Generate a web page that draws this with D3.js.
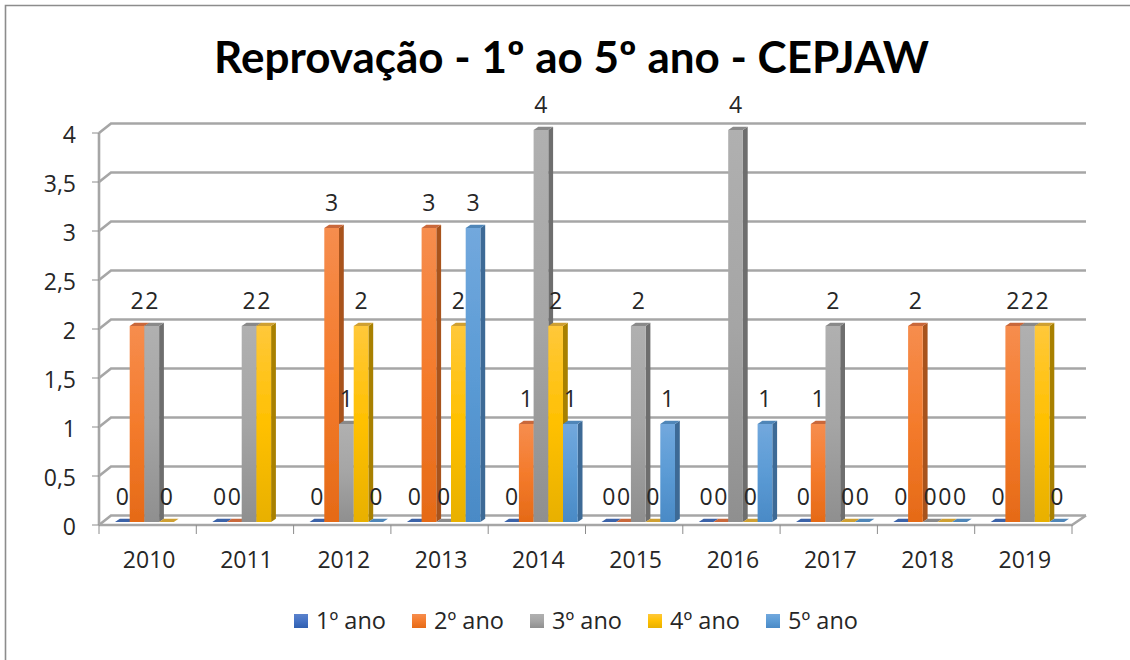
<!DOCTYPE html>
<html><head><meta charset="utf-8">
<script src="https://cdnjs.cloudflare.com/ajax/libs/d3/7.8.5/d3.min.js"></script>
<style>html,body{margin:0;padding:0;background:#fff}svg{display:block}text{font-family:"Open Sans",sans-serif;fill:#262626}</style>
</head><body><svg id="c" width="1130" height="660"></svg>
<script>
const titleText = "Reprovação - 1º ao 5º ano - CEPJAW";
const categories = ["2010","2011","2012","2013","2014","2015","2016","2017","2018","2019"];
const seriesNames = ["1º ano","2º ano","3º ano","4º ano","5º ano"];
const ano1 = [0,0,0,0,0,0,0,0,0,0];
const ano2 = [2,0,3,3,1,0,0,1,2,2];
const ano3 = [2,2,1,0,4,2,4,2,0,2];
const ano4 = [0,2,2,2,2,0,0,0,0,2];
const ano5 = [null,null,0,3,1,1,1,0,0,0];
const seriesValues = [ano1,ano2,ano3,ano4,ano5];
const colorTop = ["#5b82cc","#f68d4e","#b0b0b0","#ffc83a","#72a8dd"];
const colorMid = ["#4472c4","#f47b2c","#a5a5a5","#ffc000","#5b9bd5"];
const colorBot = ["#2f5fb0","#e56a17","#8f8f8f","#e8b000","#4a8ac6"];
const colorSide = ["#2b4a85","#a8521f","#6e6e6e","#a88000","#3d6a96"];
const colorCap = ["#3a62a8","#c9683a","#8a8a8a","#cfa032","#4f86b8"];
const yTicks = [0,0.5,1,1.5,2,2.5,3,3.5,4];

const svg = d3.select("#c");
const defs = svg.append("defs");
seriesNames.forEach((s,i)=>{
  const g = defs.append("linearGradient").attr("id","g"+i).attr("x1",0).attr("y1",0).attr("x2",0).attr("y2",1);
  g.append("stop").attr("offset","0").attr("stop-color",colorTop[i]);
  g.append("stop").attr("offset","0.5").attr("stop-color",colorMid[i]);
  g.append("stop").attr("offset","1").attr("stop-color",colorBot[i]);
});
const soft = defs.append("filter").attr("id","soft").attr("x","-2%").attr("y","-2%").attr("width","104%").attr("height","104%");
soft.append("feGaussianBlur").attr("stdDeviation",0.45);

// frame
const gridCol = "#a6a6a6";
svg.append("path").attr("d","M5.5 660V5.5H1130").attr("fill","none").attr("stroke","#8c8c8c").attr("stroke-width",1.6);

const x = d3.scaleBand().domain(categories).range([99,1072]);
const inner = d3.scaleBand().domain(d3.range(5)).range([16,89.5]);
const y = d3.scaleLinear().domain([0,4]).range([525,133]);
const depX = 12, depY = -9.5;

const root = svg.append("g").attr("filter","url(#soft)");
// gridlines on back wall + side
const grid = root.append("g");
yTicks.forEach(t=>{
  grid.append("path")
    .attr("d",`M${x.range()[0]} ${y(t)}L${x.range()[0]+depX} ${y(t)+depY}H${x.range()[1]+depX+2}`)
    .attr("fill","none").attr("stroke",gridCol).attr("stroke-width",2.6);
});
// floor
grid.append("path").attr("d",`M${x.range()[0]} ${y(0)}H${x.range()[1]}L${x.range()[1]+depX+2} ${y(0)+depY}`)
  .attr("fill","none").attr("stroke",gridCol).attr("stroke-width",2.6);
// y axis line and ticks
grid.append("line").attr("x1",99).attr("x2",99).attr("y1",y(4)).attr("y2",y(0)).attr("stroke",gridCol).attr("stroke-width",2.6);
grid.selectAll(".yt").data(yTicks).enter().append("line").attr("x1",92).attr("x2",99).attr("y1",d=>y(d)).attr("y2",d=>y(d)).attr("stroke","#8c8c8c").attr("stroke-width",1);
// x ticks
const xEdges = categories.map(c=>x(c)).concat([x.range()[1]]);
grid.selectAll(".xt").data(xEdges).enter().append("line").attr("x1",d=>d).attr("x2",d=>d).attr("y1",y(0)).attr("y2",y(0)+9).attr("stroke","#8c8c8c").attr("stroke-width",1);

// bars
const yb = d3.scaleLinear().domain([0,4]).range([522,130]);
const bw = inner.bandwidth(), dx = 4.8, dy = -3.2;
const bars = root.append("g");
categories.forEach((c,ci)=>{
  seriesValues.forEach((vals,si)=>{
    const v = vals[ci];
    if (v===null) return;
    const g = bars.append("g");
    const x0 = x(c)+inner(si), t = yb(v), b = yb(0);
    if (v===0){
      g.append("path").attr("d",`M${x0} ${b}H${x0+bw}L${x0+bw+dx} ${b+dy}H${x0+dx}Z`).attr("fill",colorCap[si]);
      return;
    }
    g.append("path").attr("d",`M${x0+bw} ${t}L${x0+bw+dx} ${t+dy}V${b+dy}L${x0+bw} ${b}Z`).attr("fill",colorSide[si]);
    g.append("path").attr("d",`M${x0} ${t}L${x0+dx} ${t+dy}H${x0+bw+dx}L${x0+bw} ${t}Z`).attr("fill",colorCap[si]);
    g.append("rect").attr("x",x0).attr("y",t).attr("width",bw).attr("height",b-t).attr("fill",`url(#g${si})`);
  });
});

// value labels
const labels = svg.append("g");
categories.forEach((c,ci)=>{
  seriesValues.forEach((vals,si)=>{
    const v = vals[ci];
    if (v===null) return;
    labels.append("text").attr("x",x(c)+inner(si)+bw/2).attr("y",yb(v)-17.5)
      .attr("text-anchor","middle").attr("font-size",23).text(v);
  });
});

// y tick labels
svg.append("g").selectAll("text").data(yTicks).enter().append("text")
  .attr("x",76).attr("y",d=>y(d)+10).attr("text-anchor","end").attr("font-size",23)
  .text(d=>String(d).replace(".",","));
// x labels
svg.append("g").selectAll("text").data(categories).enter().append("text")
  .attr("x",c=>x(c)+x.bandwidth()/2+1.5).attr("y",568).attr("text-anchor","middle").attr("font-size",23).text(c=>c);

// title
svg.append("text").attr("x",571.5).attr("y",73).attr("text-anchor","middle")
  .attr("font-size",44).attr("font-weight",700).style("fill","#000").style("font-family","Lato, sans-serif").text(titleText);

// legend
const legX = d3.scalePoint().domain(seriesNames).range([294,766]);
const leg = svg.append("g").selectAll("g").data(seriesNames).enter().append("g").attr("transform",d=>`translate(${legX(d)},614)`);
leg.append("rect").attr("width",14).attr("height",14).attr("fill",(d,i)=>`url(#g${i})`);
leg.append("text").attr("x",22).attr("y",15).attr("font-size",23.5).text(d=>d);
</script></body></html>
